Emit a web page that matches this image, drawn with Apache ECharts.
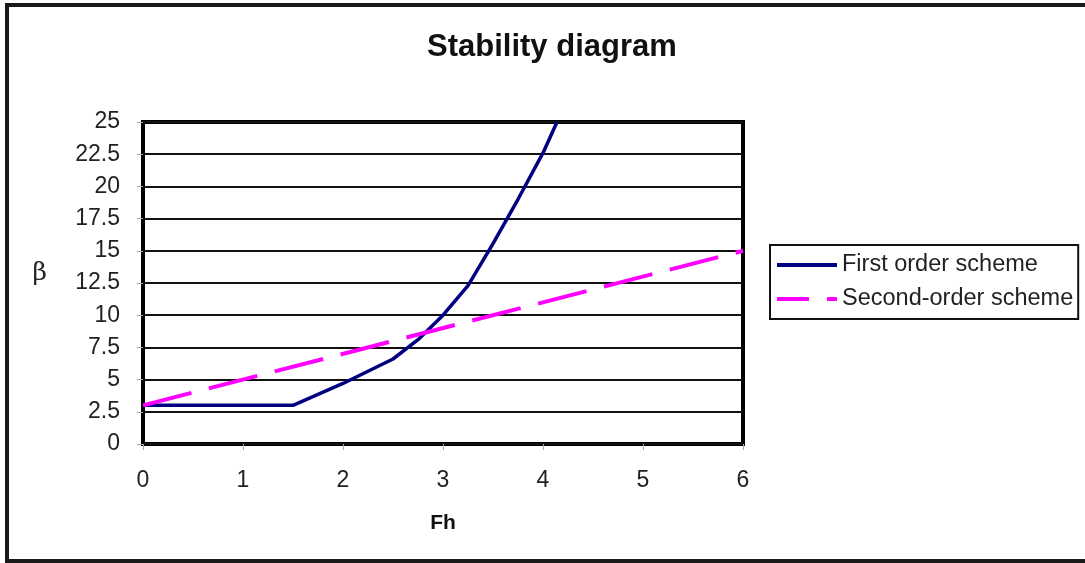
<!DOCTYPE html>
<html>
<head>
<meta charset="utf-8">
<script src="https://cdn.jsdelivr.net/npm/echarts@6/dist/echarts.min.js"></script>
<style>
  html, body { margin: 0; padding: 0; background: #fff; }
  #chart { width: 1085px; height: 563px; }
</style>
</head>
<body>
<div id="chart"></div>
<script>
// First order scheme: stability limit beta vs Fh
const fhFirst = [0, 0.5, 1, 1.5, 2, 2.5, 2.75, 3, 3.25, 3.5, 3.75, 4, 4.14];
const betaFirst = [3, 3, 3, 3, 4.7, 6.6, 8.1, 10, 12.3, 15.55, 19, 22.6, 25];

// Second-order scheme: linear limit
const fhSecond = [0, 6];
const betaSecond = [3, 15];

const seriesNames = ['First order scheme', 'Second-order scheme'];
const xTicks = [0, 1, 2, 3, 4, 5, 6];
const yTicks = [0, 2.5, 5, 7.5, 10, 12.5, 15, 17.5, 20, 22.5, 25];

const pairs = (xs, ys) => xs.map((x, i) => [x, ys[i]]);

const chart = echarts.init(document.getElementById('chart'));
const labelFont = 'Liberation Sans, Arial, sans-serif';

// legend swatches: a solid bar and a long/short dash pair
const solidSwatch = 'path://M0,0H60V4H0Z';
const dashSwatch = 'path://M0,0H32V4H0Z M50,0H60V4H50Z';

chart.setOption({
  backgroundColor: '#ffffff',
  animation: false,
  title: {
    text: 'Stability diagram',
    left: 422,
    top: 27,
    textStyle: { fontFamily: labelFont, fontSize: 31, fontWeight: 'bold', color: '#111' }
  },
  graphic: [{
    type: 'rect',
    z: -1,
    shape: { x: 7, y: 5, width: 1090, height: 556 },
    style: { fill: 'none', stroke: '#1a1a1a', lineWidth: 4 }
  }],
  legend: {
    orient: 'vertical',
    left: 770,
    top: 245,
    padding: [8, 5, 8, 7],
    itemGap: 10,
    itemWidth: 60,
    itemHeight: 4,
    borderColor: '#111',
    borderWidth: 2,
    textStyle: { fontFamily: labelFont, fontSize: 23.5, color: '#222', lineHeight: 24 },
    data: [
      { name: seriesNames[0], icon: solidSwatch },
      { name: seriesNames[1], icon: dashSwatch }
    ]
  },
  grid: {
    left: 143,
    top: 122,
    width: 600,
    height: 322,
    show: true,
    borderColor: '#000',
    borderWidth: 4,
    backgroundColor: 'transparent'
  },
  xAxis: {
    type: 'value',
    min: xTicks[0],
    max: xTicks[xTicks.length - 1],
    interval: 1,
    name: 'Fh',
    nameLocation: 'middle',
    nameGap: 69,
    nameTextStyle: { fontFamily: labelFont, fontSize: 21, fontWeight: 'bold', color: '#111' },
    axisLine: { show: false },
    axisTick: { show: true, length: 6, lineStyle: { color: '#aaa', width: 1 } },
    axisLabel: { fontFamily: labelFont, fontSize: 23, color: '#222', margin: 25 },
    splitLine: { show: false }
  },
  yAxis: {
    type: 'value',
    min: yTicks[0],
    max: yTicks[yTicks.length - 1],
    interval: 2.5,
    name: 'β',
    nameLocation: 'middle',
    nameRotate: 0,
    nameGap: 96,
    nameTextStyle: {
      fontFamily: 'DejaVu Serif, Liberation Serif, serif',
      fontSize: 25,
      color: '#222',
      verticalAlign: 'bottom',
      lineHeight: 20
    },
    axisLine: { show: false },
    axisTick: { show: true, length: 6, lineStyle: { color: '#aaa', width: 1 } },
    axisLabel: { fontFamily: labelFont, fontSize: 23, color: '#222', margin: 23 },
    splitLine: { show: true, lineStyle: { color: '#111', width: 2 } }
  },
  series: [
    {
      name: seriesNames[0],
      type: 'line',
      data: pairs(fhFirst, betaFirst),
      symbol: 'none',
      clip: true,
      z: 3,
      lineStyle: { color: '#000080', width: 3.5 },
      itemStyle: { color: '#000080' }
    },
    {
      name: seriesNames[1],
      type: 'line',
      data: pairs(fhSecond, betaSecond),
      symbol: 'none',
      z: 4,
      lineStyle: { color: '#ff00ff', width: 4, type: [50, 18] },
      itemStyle: { color: '#ff00ff' }
    }
  ]
});
</script>
</body>
</html>
